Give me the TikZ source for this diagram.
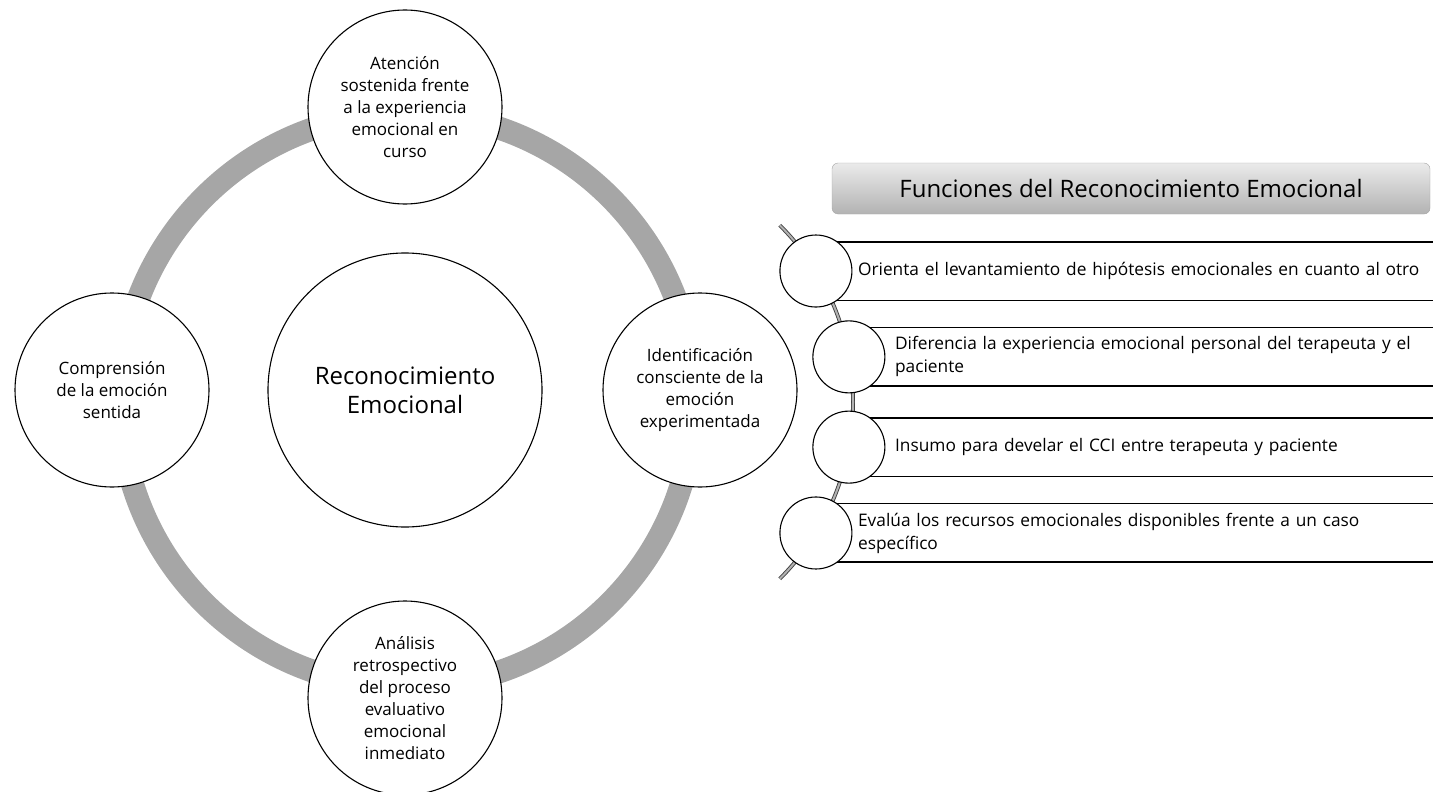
\documentclass[tikz,border=0pt]{standalone}
\usepackage{fontspec}
\setmainfont{Open Sans}
\usetikzlibrary{calc}
\tikzstyle{phase}=[circle, draw, fill=white, line width=1.1pt, minimum size=194pt, inner sep=0pt, align=center, font=\fontsize{17}{22}\selectfont]
\tikzstyle{core}=[circle, draw, fill=white, line width=1.1pt, minimum size=274pt, inner sep=0pt, align=center, font=\fontsize{24}{29}\selectfont]
\tikzstyle{bead}=[circle, draw, fill=white, line width=1.1pt, minimum size=72pt, inner sep=0pt]
\tikzstyle{item}=[anchor=west, minimum height=58pt, text width=600pt, inner ysep=0pt, align=left, font=\fontsize{17.3}{23}\selectfont]
\tikzstyle{band}=[line width=1.4pt]
\tikzstyle{ring}=[draw=black!35, line width=23pt]
\tikzstyle{spine}=[draw=black!75, double=black!30, line width=0.9pt, double distance=2pt]
\tikzstyle{headbox}=[rounded corners=6pt, draw=black!35, top color=black!8, bottom color=black!30, minimum width=598pt, minimum height=51pt, font=\fontsize{24}{28}\selectfont]

\begin{document}
\begin{tikzpicture}[x=1pt, y=-1pt]
  \useasboundingbox (0,0) rectangle (1433,792);
  % cycle around the central idea
  \coordinate (hub) at (407,400);
  \draw[ring] (hub) circle[radius=287];
  \node[core]  (rec)  at (405,390) {Reconocimiento\\Emocional};
  \node[phase] (aten) at (405,107) {Atención\\sostenida frente\\a la experiencia\\emocional en\\curso};
  \node[phase] (iden) at (700,390) {Identificación\\consciente de la\\emoción\\experimentada};
  \node[phase] (anal) at (405,698) {Análisis\\retrospectivo\\del proceso\\evaluativo\\emocional\\inmediato};
  \node[phase] (comp) at (112,390) {Comprensión\\de la emoción\\sentida};

  % list of functions
  \node[headbox] (head) at (1131,188.5) {Funciones del Reconocimiento Emocional};
  \coordinate (arcc) at (603,402);
  \coordinate (sTop) at ($(arcc)+(-45:250)$);
  \draw[spine] (sTop) arc[start angle=-45, end angle=45, radius=250];
  \coordinate (p1) at ($(arcc)+(-31.6:250)$);
  \coordinate (p2) at ($(arcc)+(-10.4:250)$);
  \coordinate (p3) at ($(arcc)+(10.4:250)$);
  \coordinate (p4) at ($(arcc)+(31.6:250)$);
  \node[item, inner xsep=42pt] (f1) at (p1) {Orienta el levantamiento de hipótesis emocionales en cuanto al otro};
  \node[item, inner xsep=46pt] (f2) at (p2) {Diferencia la experiencia emocional personal del terapeuta y el\\paciente};
  \node[item, inner xsep=46pt] (f3) at (p3) {Insumo para develar el CCI entre terapeuta y paciente};
  \node[item, inner xsep=42pt] (f4) at (p4) {Evalúa los recursos emocionales disponibles frente a un caso\\específico};
  \foreach \f in {f1,f2,f3,f4} {
    \draw[band] (\f.north west) -- (\f.north east);
    \draw[band] (\f.south west) -- (\f.south east);
  }
  \node[bead] (b1) at (p1) {};
  \node[bead] (b2) at (p2) {};
  \node[bead] (b3) at (p3) {};
  \node[bead] (b4) at (p4) {};
\end{tikzpicture}
\end{document}
